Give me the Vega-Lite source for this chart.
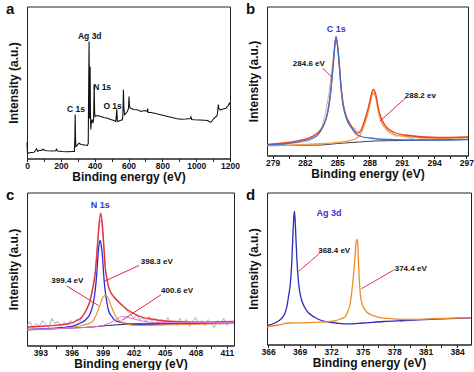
{
  "$schema": "https://vega.github.io/schema/vega-lite/v6.json",
  "background": "white",
  "padding": {"left": 5, "top": 0.5, "right": 0, "bottom": 0},
  "config": {
    "font": "Liberation Sans",
    "view": {"stroke": "#222", "strokeWidth": 1},
    "axis": {"grid": false, "tickSize": 3, "labelFont": "Liberation Sans", "labelFontSize": 8.5, "labelFontWeight": "bold", "labelColor": "#111", "tickColor": "#222", "domainColor": "#222", "titleFont": "Liberation Sans", "titleFontSize": 12, "titleFontWeight": "bold", "titleColor": "#111"},
    "axisX": {"labelFlush": false, "labelOverlap": false, "labelPadding": 0, "titlePadding": 1, "format": "d"},
    "axisY": {"labels": false, "ticks": false, "domain": false, "titlePadding": 7},
    "title": {"font": "Liberation Sans", "fontSize": 15, "fontWeight": "bold", "color": "#111", "anchor": "start", "frame": "bounds", "offset": -10, "dy": 0, "dx": -1, "baseline": "alphabetic"},
    "text": {"font": "Liberation Sans", "fontWeight": "bold", "fontSize": 8.5}
  },
  "datasets": {
    "a": [
      {"x":0,"I":16},{"x":3,"I":5},{"x":20,"I":6},{"x":41,"I":6.3},{"x":50,"I":8},{"x":56,"I":9.7},{"x":63,"I":7},{"x":71,"I":8},{"x":85,"I":8},{"x":95,"I":9.3},{"x":105,"I":8},{"x":120,"I":7.7},{"x":150,"I":7.5},{"x":170,"I":7.7},{"x":174,"I":9.3},{"x":180,"I":7.5},{"x":210,"I":7},{"x":237,"I":6.7},{"x":270,"I":7},{"x":280,"I":7},{"x":283,"I":20},{"x":285,"I":44},{"x":287,"I":20},{"x":289,"I":12},{"x":295,"I":13},{"x":307,"I":15.3},{"x":320,"I":14},{"x":340,"I":13.5},{"x":357,"I":13},{"x":362,"I":15},{"x":364,"I":60},{"x":367,"I":117},{"x":369,"I":40},{"x":371,"I":60},{"x":373,"I":92},{"x":375,"I":45},{"x":377,"I":29},{"x":380,"I":36},{"x":385,"I":39},{"x":390,"I":35.3},{"x":394,"I":40},{"x":397,"I":72.7},{"x":400,"I":45},{"x":403,"I":42},{"x":415,"I":43},{"x":436,"I":42},{"x":455,"I":41},{"x":475,"I":40.3},{"x":495,"I":39},{"x":514,"I":38},{"x":525,"I":37},{"x":529,"I":45},{"x":531,"I":49.3},{"x":534,"I":38},{"x":538,"I":37},{"x":550,"I":38},{"x":564,"I":38.7},{"x":567,"I":45},{"x":570,"I":68.7},{"x":573,"I":50},{"x":577,"I":43.7},{"x":585,"I":45},{"x":593,"I":47},{"x":600,"I":50},{"x":603,"I":62},{"x":606,"I":52},{"x":613,"I":50.3},{"x":630,"I":49},{"x":652,"I":48.7},{"x":674,"I":47},{"x":695,"I":48},{"x":711,"I":47},{"x":713,"I":50},{"x":716,"I":46},{"x":733,"I":46},{"x":760,"I":45},{"x":790,"I":43.7},{"x":820,"I":42.5},{"x":851,"I":41.3},{"x":880,"I":40},{"x":910,"I":39.3},{"x":940,"I":39.5},{"x":965,"I":40},{"x":969,"I":41.5},{"x":973,"I":39},{"x":989,"I":38.7},{"x":1020,"I":38.5},{"x":1050,"I":38.3},{"x":1068,"I":38},{"x":1080,"I":36.5},{"x":1087,"I":36.3},{"x":1095,"I":38},{"x":1107,"I":40.3},{"x":1118,"I":42},{"x":1123,"I":42.5},{"x":1128,"I":48},{"x":1131,"I":54},{"x":1134,"I":50},{"x":1143,"I":48.7},{"x":1160,"I":49.5},{"x":1176,"I":50.3},{"x":1190,"I":53},{"x":1196,"I":55.3},{"x":1200,"I":54}
    ],
    "a_lab": [
      {"x":371,"I":122.5,"t":"Ag 3d"},{"x":444,"I":72,"t":"N 1s"},{"x":290,"I":50,"t":"C 1s"},{"x":506,"I":53,"t":"O 1s"}
    ],
    "b": [
      {"s":"raw","x":278.5,"I":11},{"s":"raw","x":279.5,"I":10},{"s":"raw","x":280.5,"I":12},{"s":"raw","x":281.5,"I":13},{"s":"raw","x":282.5,"I":15},{"s":"raw","x":283.2,"I":20},{"s":"raw","x":283.6,"I":30},{"s":"raw","x":283.9,"I":42},{"s":"raw","x":284.2,"I":60},{"s":"raw","x":284.5,"I":85},{"s":"raw","x":284.8,"I":115},{"s":"raw","x":285.0,"I":112},{"s":"raw","x":285.3,"I":75},{"s":"raw","x":285.6,"I":47},{"s":"raw","x":286.0,"I":34},{"s":"raw","x":286.4,"I":28},{"s":"raw","x":286.7,"I":27},{"s":"raw","x":287.0,"I":23},{"s":"raw","x":287.3,"I":27},{"s":"raw","x":287.6,"I":36},{"s":"raw","x":288.0,"I":52},{"s":"raw","x":288.3,"I":64},{"s":"raw","x":288.6,"I":58},{"s":"raw","x":289.0,"I":39},{"s":"raw","x":289.5,"I":28},{"s":"raw","x":290.0,"I":22},{"s":"raw","x":290.5,"I":19},{"s":"raw","x":291.0,"I":21},{"s":"raw","x":291.5,"I":18},{"s":"raw","x":292.0,"I":17},{"s":"raw","x":292.5,"I":19},{"s":"raw","x":293.0,"I":16},{"s":"raw","x":293.5,"I":18},{"s":"raw","x":294.0,"I":17},{"s":"raw","x":294.5,"I":15},{"s":"raw","x":295.0,"I":18},{"s":"raw","x":295.5,"I":16},{"s":"raw","x":296.0,"I":18},{"s":"raw","x":296.5,"I":17},{"s":"raw","x":297.1,"I":19},
      {"s":"base","x":278.47,"I":10},{"s":"base","x":283.5,"I":10.5},{"s":"base","x":285,"I":12},{"s":"base","x":287,"I":13.5},{"s":"base","x":288.5,"I":14.5},{"s":"base","x":291,"I":15},{"s":"base","x":297.16,"I":16},
      {"s":"c1","x":278.47,"I":10.7},{"s":"c1","x":280,"I":11.5},{"s":"c1","x":281.95,"I":15},{"s":"c1","x":283,"I":19},{"s":"c1","x":283.5,"I":25},{"s":"c1","x":283.9,"I":35},{"s":"c1","x":284.12,"I":43.3},{"s":"c1","x":284.3,"I":55},{"s":"c1","x":284.43,"I":67},{"s":"c1","x":284.55,"I":82},{"s":"c1","x":284.68,"I":97},{"s":"c1","x":284.78,"I":110},{"s":"c1","x":284.89,"I":118.3},{"s":"c1","x":285.0,"I":112},{"s":"c1","x":285.12,"I":100},{"s":"c1","x":285.25,"I":83},{"s":"c1","x":285.36,"I":67},{"s":"c1","x":285.5,"I":53},{"s":"c1","x":285.68,"I":43.3},{"s":"c1","x":286.0,"I":33},{"s":"c1","x":286.29,"I":28.3},{"s":"c1","x":286.7,"I":22},{"s":"c1","x":287.22,"I":19},{"s":"c1","x":288,"I":17.5},{"s":"c1","x":288.78,"I":16.5},{"s":"c1","x":290,"I":16},{"s":"c1","x":291.26,"I":15.5},{"s":"c1","x":294,"I":15.5},{"s":"c1","x":297.16,"I":16},
      {"s":"c2","x":278.47,"I":10},{"s":"c2","x":281,"I":10.5},{"s":"c2","x":283,"I":11.5},{"s":"c2","x":285,"I":13},{"s":"c2","x":286,"I":14.5},{"s":"c2","x":286.61,"I":16.5},{"s":"c2","x":287.0,"I":19},{"s":"c2","x":287.3,"I":24},{"s":"c2","x":287.54,"I":31},{"s":"c2","x":287.8,"I":40},{"s":"c2","x":288.0,"I":49},{"s":"c2","x":288.15,"I":56},{"s":"c2","x":288.28,"I":61},{"s":"c2","x":288.38,"I":62.5},{"s":"c2","x":288.5,"I":60.5},{"s":"c2","x":288.65,"I":54},{"s":"c2","x":288.78,"I":46},{"s":"c2","x":289.0,"I":36.5},{"s":"c2","x":289.4,"I":28},{"s":"c2","x":289.71,"I":24.5},{"s":"c2","x":290.3,"I":21},{"s":"c2","x":291.26,"I":19},{"s":"c2","x":294.36,"I":17.2},{"s":"c2","x":297.16,"I":18},
      {"s":"fit","x":278.47,"I":11},{"s":"fit","x":281.95,"I":16},{"s":"fit","x":283.5,"I":26},{"s":"fit","x":284.12,"I":44},{"s":"fit","x":284.43,"I":68},{"s":"fit","x":284.68,"I":98},{"s":"fit","x":284.89,"I":119},{"s":"fit","x":285.12,"I":101},{"s":"fit","x":285.36,"I":68},{"s":"fit","x":285.68,"I":45},{"s":"fit","x":286.29,"I":30},{"s":"fit","x":286.6,"I":25},{"s":"fit","x":286.92,"I":22.3},{"s":"fit","x":287.2,"I":25},{"s":"fit","x":287.54,"I":35},{"s":"fit","x":287.8,"I":44},{"s":"fit","x":288.0,"I":53},{"s":"fit","x":288.15,"I":60},{"s":"fit","x":288.28,"I":65},{"s":"fit","x":288.38,"I":66},{"s":"fit","x":288.5,"I":64},{"s":"fit","x":288.65,"I":58},{"s":"fit","x":288.78,"I":50},{"s":"fit","x":289.0,"I":40},{"s":"fit","x":289.4,"I":31},{"s":"fit","x":289.71,"I":27},{"s":"fit","x":290.3,"I":23},{"s":"fit","x":291.26,"I":20.5},{"s":"fit","x":294.36,"I":18},{"s":"fit","x":297.16,"I":18.5}
    ],
    "b_lab": [{"x":282.36,"I":91.7,"t":"284.6 eV"},{"x":292.73,"I":59.7,"t":"288.2 ev"}],
    "b_el": [{"x":284.9,"I":127,"t":"C 1s"}],
    "b_ptr": [{"x":283.66,"I":87.3,"x2":284.59,"I2":77.3},{"x":291.41,"I":58,"x2":288.94,"I2":34}],
    "c": [
      {"s":"raw","x":391.7,"I":20},{"s":"raw","x":392.0,"I":24},{"s":"raw","x":392.3,"I":17},{"s":"raw","x":392.6,"I":22},{"s":"raw","x":392.9,"I":19},{"s":"raw","x":393.2,"I":25},{"s":"raw","x":393.5,"I":21},{"s":"raw","x":393.8,"I":18},{"s":"raw","x":394.1,"I":27},{"s":"raw","x":394.4,"I":22},{"s":"raw","x":394.7,"I":24},{"s":"raw","x":395.0,"I":19},{"s":"raw","x":395.3,"I":23},{"s":"raw","x":395.6,"I":21},{"s":"raw","x":395.9,"I":25},{"s":"raw","x":396.2,"I":22},{"s":"raw","x":396.5,"I":26},{"s":"raw","x":396.8,"I":24},{"s":"raw","x":397.1,"I":30},{"s":"raw","x":397.4,"I":34},{"s":"raw","x":397.7,"I":42},{"s":"raw","x":398.0,"I":55},{"s":"raw","x":398.3,"I":75},{"s":"raw","x":398.5,"I":100},{"s":"raw","x":398.7,"I":122},{"s":"raw","x":398.9,"I":126},{"s":"raw","x":399.1,"I":100},{"s":"raw","x":399.3,"I":75},{"s":"raw","x":399.5,"I":62},{"s":"raw","x":399.7,"I":55},{"s":"raw","x":399.9,"I":52},{"s":"raw","x":400.1,"I":50},{"s":"raw","x":400.3,"I":47},{"s":"raw","x":400.5,"I":45},{"s":"raw","x":400.8,"I":42},{"s":"raw","x":401.1,"I":38},{"s":"raw","x":401.4,"I":34},{"s":"raw","x":401.7,"I":32},{"s":"raw","x":402.0,"I":27},{"s":"raw","x":402.3,"I":31},{"s":"raw","x":402.6,"I":25},{"s":"raw","x":402.9,"I":28},{"s":"raw","x":403.2,"I":23},{"s":"raw","x":403.5,"I":29},{"s":"raw","x":403.8,"I":24},{"s":"raw","x":404.1,"I":27},{"s":"raw","x":404.4,"I":22},{"s":"raw","x":404.7,"I":26},{"s":"raw","x":405.0,"I":21},{"s":"raw","x":405.3,"I":28},{"s":"raw","x":405.6,"I":22},{"s":"raw","x":405.9,"I":25},{"s":"raw","x":406.2,"I":20},{"s":"raw","x":406.5,"I":27},{"s":"raw","x":406.8,"I":23},{"s":"raw","x":407.1,"I":26},{"s":"raw","x":407.4,"I":19},{"s":"raw","x":407.7,"I":24},{"s":"raw","x":408.0,"I":28},{"s":"raw","x":408.3,"I":21},{"s":"raw","x":408.6,"I":25},{"s":"raw","x":408.9,"I":20},{"s":"raw","x":409.2,"I":26},{"s":"raw","x":409.5,"I":22},{"s":"raw","x":409.8,"I":18},{"s":"raw","x":410.1,"I":25},{"s":"raw","x":410.4,"I":21},{"s":"raw","x":410.7,"I":27},{"s":"raw","x":411.0,"I":20},{"s":"raw","x":411.3,"I":23},{"s":"raw","x":411.6,"I":24},
      {"s":"base","x":391.7,"I":15.7},{"s":"base","x":396,"I":17.5},{"s":"base","x":398,"I":18.5},{"s":"base","x":399.5,"I":20},{"s":"base","x":401,"I":21},{"s":"base","x":404,"I":21.5},{"s":"base","x":411.7,"I":22.3},
      {"s":"c1","x":391.7,"I":16},{"s":"c1","x":394,"I":17},{"s":"c1","x":396,"I":19},{"s":"c1","x":396.69,"I":21.7},{"s":"c1","x":397.4,"I":26},{"s":"c1","x":397.8,"I":31.7},{"s":"c1","x":398.1,"I":42},{"s":"c1","x":398.29,"I":55},{"s":"c1","x":398.45,"I":73},{"s":"c1","x":398.55,"I":88.3},{"s":"c1","x":398.65,"I":100},{"s":"c1","x":398.77,"I":105},{"s":"c1","x":398.9,"I":98},{"s":"c1","x":399.0,"I":88.3},{"s":"c1","x":399.1,"I":72},{"s":"c1","x":399.25,"I":55},{"s":"c1","x":399.4,"I":44},{"s":"c1","x":399.58,"I":35},{"s":"c1","x":399.9,"I":29},{"s":"c1","x":400.21,"I":25},{"s":"c1","x":400.86,"I":23},{"s":"c1","x":401.51,"I":21.7},{"s":"c1","x":403,"I":21.5},{"s":"c1","x":406,"I":21.8},{"s":"c1","x":411.7,"I":22.5},
      {"s":"c2","x":391.7,"I":15.5},{"s":"c2","x":395,"I":17},{"s":"c2","x":397,"I":20},{"s":"c2","x":397.97,"I":23.5},{"s":"c2","x":398.45,"I":32},{"s":"c2","x":398.8,"I":42},{"s":"c2","x":399.05,"I":48.5},{"s":"c2","x":399.3,"I":50.3},{"s":"c2","x":399.55,"I":47},{"s":"c2","x":399.85,"I":39},{"s":"c2","x":400.2,"I":30.5},{"s":"c2","x":400.6,"I":25},{"s":"c2","x":401.2,"I":21.5},{"s":"c2","x":402.5,"I":20},{"s":"c2","x":405,"I":20.5},{"s":"c2","x":411.7,"I":22},
      {"s":"c3","x":391.7,"I":16},{"s":"c3","x":396,"I":17.5},{"s":"c3","x":398,"I":18.5},{"s":"c3","x":399,"I":20},{"s":"c3","x":399.7,"I":22.5},{"s":"c3","x":400.3,"I":26},{"s":"c3","x":400.9,"I":29},{"s":"c3","x":401.5,"I":28},{"s":"c3","x":402.2,"I":26},{"s":"c3","x":402.8,"I":24.5},{"s":"c3","x":404,"I":23},{"s":"c3","x":406.6,"I":22.7},{"s":"c3","x":411.7,"I":23},
      {"s":"fit","x":391.7,"I":18.3},{"s":"fit","x":393.5,"I":19.5},{"s":"fit","x":395.72,"I":21.7},{"s":"fit","x":396.69,"I":26},{"s":"fit","x":397.0,"I":28.3},{"s":"fit","x":397.4,"I":35},{"s":"fit","x":397.8,"I":45},{"s":"fit","x":398.05,"I":57},{"s":"fit","x":398.29,"I":71.7},{"s":"fit","x":398.45,"I":92},{"s":"fit","x":398.61,"I":115},{"s":"fit","x":398.81,"I":132.3},{"s":"fit","x":398.95,"I":124},{"s":"fit","x":399.03,"I":115},{"s":"fit","x":399.15,"I":95},{"s":"fit","x":399.25,"I":78.3},{"s":"fit","x":399.4,"I":68},{"s":"fit","x":399.58,"I":58.3},{"s":"fit","x":399.9,"I":51},{"s":"fit","x":400.21,"I":47},{"s":"fit","x":400.5,"I":44},{"s":"fit","x":400.86,"I":40.5},{"s":"fit","x":401.51,"I":35},{"s":"fit","x":402.1,"I":31.5},{"s":"fit","x":402.79,"I":28.3},{"s":"fit","x":404,"I":26},{"s":"fit","x":405.36,"I":24.3},{"s":"fit","x":408.58,"I":23.3},{"s":"fit","x":411.69,"I":24}
    ],
    "c_lab": [{"x":404.24,"I":83.3,"t":"398.3 eV"},{"x":395.6,"I":65,"t":"399.4 eV"},{"x":406.2,"I":55,"t":"400.6 eV"}],
    "c_el": [{"x":398.77,"I":141,"t":"N 1s"}],
    "c_ptr": [{"x":402.53,"I":80,"x2":399.19,"I2":64.3},{"x":395.56,"I":59.3,"x2":398.61,"I2":40},{"x":404.65,"I":50.7,"x2":400.86,"I2":25}],
    "d": [
      {"s":"c1","x":365.9,"I":19},{"s":"c1","x":366.7,"I":21.7},{"s":"c1","x":367.33,"I":26.7},{"s":"c1","x":367.6,"I":31},{"s":"c1","x":367.8,"I":38.3},{"s":"c1","x":367.95,"I":48},{"s":"c1","x":368.13,"I":61.7},{"s":"c1","x":368.25,"I":80},{"s":"c1","x":368.35,"I":105},{"s":"c1","x":368.44,"I":125},{"s":"c1","x":368.51,"I":133.3},{"s":"c1","x":368.58,"I":124},{"s":"c1","x":368.66,"I":105},{"s":"c1","x":368.75,"I":85},{"s":"c1","x":368.85,"I":68.3},{"s":"c1","x":369.0,"I":54},{"s":"c1","x":369.18,"I":45},{"s":"c1","x":369.45,"I":38},{"s":"c1","x":369.71,"I":33.3},{"s":"c1","x":370.1,"I":29.5},{"s":"c1","x":370.51,"I":26.7},{"s":"c1","x":371.1,"I":24},{"s":"c1","x":371.78,"I":22.3},{"s":"c1","x":372.7,"I":21.2},{"s":"c1","x":373.68,"I":20.7},{"s":"c1","x":375,"I":21.5},{"s":"c1","x":377,"I":23},{"s":"c1","x":379.08,"I":24},{"s":"c1","x":382,"I":25.5},{"s":"c1","x":385.33,"I":26.7},
      {"s":"c2","x":365.9,"I":17.7},{"s":"c2","x":367,"I":19.5},{"s":"c2","x":367.97,"I":21.5},{"s":"c2","x":369.56,"I":21.7},{"s":"c2","x":371,"I":22.3},{"s":"c2","x":372.3,"I":23.5},{"s":"c2","x":372.9,"I":25.5},{"s":"c2","x":373.37,"I":28},{"s":"c2","x":373.6,"I":33},{"s":"c2","x":373.84,"I":41.7},{"s":"c2","x":374.0,"I":55},{"s":"c2","x":374.16,"I":71.7},{"s":"c2","x":374.3,"I":90},{"s":"c2","x":374.38,"I":101.7},{"s":"c2","x":374.47,"I":105},{"s":"c2","x":374.55,"I":100},{"s":"c2","x":374.63,"I":78},{"s":"c2","x":374.72,"I":60},{"s":"c2","x":374.8,"I":49},{"s":"c2","x":374.95,"I":41},{"s":"c2","x":375.11,"I":36.7},{"s":"c2","x":375.4,"I":32.5},{"s":"c2","x":375.75,"I":30},{"s":"c2","x":376.3,"I":28},{"s":"c2","x":376.85,"I":26.7},{"s":"c2","x":378,"I":25.6},{"s":"c2","x":379.08,"I":25},{"s":"c2","x":382,"I":25.8},{"s":"c2","x":385.33,"I":26.7}
    ],
    "d_lab": [{"x":372.3,"I":93.3,"t":"368.4 eV"},{"x":379.59,"I":75.7,"t":"374.4 eV"}],
    "d_el": [{"x":371.8,"I":131.7,"t":"Ag 3d"}],
    "d_ptr": [{"x":370.89,"I":91,"x2":368.92,"I2":73.3},{"x":378.06,"I":75,"x2":374.89,"I2":55.7}]
  },
  "columns": 2,
  "bounds": "flush",
  "align": "all",
  "spacing": {"row": 33, "column": 33},
  "concat": [
    {
      "width": 203, "height": 152,
      "title": {"text": "a"},
      "encoding": {
        "x": {"field": "x", "type": "quantitative", "scale": {"domain": [0, 1200], "nice": false, "zero": false},
              "axis": {"title": "Binding energy (eV)", "values": [0,100,200,300,400,500,600,700,800,900,1000,1100,1200],
                       "labelExpr": "datum.value % 200 == 0 ? datum.label : ''"}},
        "y": {"field": "I", "type": "quantitative", "scale": {"domain": [0, 152], "nice": false, "zero": false}, "axis": {"title": "Intensity (a.u.)"}}
      },
      "layer": [
        {"data": {"name": "a"}, "mark": {"type": "line", "color": "#111", "strokeWidth": 1.1}},
        {"data": {"name": "a_lab"}, "mark": {"type": "text", "color": "#111"}, "encoding": {"text": {"field": "t"}}}
      ]
    },
    {
      "width": 201, "height": 149,
      "title": {"text": "b"},
      "encoding": {
        "x": {"field": "x", "type": "quantitative", "scale": {"domain": [278.47, 297.16], "nice": false, "zero": false},
              "axis": {"title": "Binding energy (eV)", "values": [279,280.5,282,283.5,285,286.5,288,289.5,291,292.5,294,295.5,297],
                       "labelExpr": "(datum.value - 279) % 3 == 0 ? datum.label : ''"}},
        "y": {"field": "I", "type": "quantitative", "scale": {"domain": [0, 149], "nice": false, "zero": false}, "axis": {"title": "Intensity (a.u.)"}}
      },
      "layer": [
        {"data": {"name": "b"}, "transform": [{"filter": "datum.s == 'raw'"}], "mark": {"type": "line", "color": "#b8b8b8", "strokeWidth": 1, "interpolate": "linear"}},
        {"data": {"name": "b"}, "transform": [{"filter": "datum.s == 'base'"}], "mark": {"type": "line", "color": "#3a3a5a", "strokeWidth": 1, "interpolate": "monotone"}},
        {"data": {"name": "b"}, "transform": [{"filter": "datum.s == 'c2'"}], "mark": {"type": "line", "color": "#f5a040", "strokeWidth": 1.3, "interpolate": "monotone"}},
        {"data": {"name": "b"}, "transform": [{"filter": "datum.s == 'fit'"}], "mark": {"type": "line", "color": "#e8461e", "strokeWidth": 1.3, "interpolate": "monotone"}},
        {"data": {"name": "b"}, "transform": [{"filter": "datum.s == 'c1'"}], "mark": {"type": "line", "color": "#3f6fd0", "strokeWidth": 1.3, "interpolate": "monotone"}},
        {"data": {"name": "b_ptr"}, "mark": {"type": "rule", "color": "#e8283c", "strokeWidth": 1}, "encoding": {"x2": {"field": "x2"}, "y2": {"field": "I2"}}},
        {"data": {"name": "b_lab"}, "mark": {"type": "text", "color": "#111", "fontSize": 8}, "encoding": {"text": {"field": "t"}}},
        {"data": {"name": "b_el"}, "mark": {"type": "text", "color": "#3535d0", "fontSize": 9}, "encoding": {"text": {"field": "t"}}}
      ]
    },
    {
      "width": 207, "height": 153,
      "title": {"text": "c"},
      "encoding": {
        "x": {"field": "x", "type": "quantitative", "scale": {"domain": [391.7, 411.7], "nice": false, "zero": false},
              "axis": {"title": "Binding energy (eV)", "values": [393,394.5,396,397.5,399,400.5,402,403.5,405,406.5,408,409.5,411],
                       "labelExpr": "(datum.value - 393) % 3 == 0 ? datum.label : ''"}},
        "y": {"field": "I", "type": "quantitative", "scale": {"domain": [0, 153], "nice": false, "zero": false}, "axis": {"title": "Intensity (a.u.)"}}
      },
      "layer": [
        {"data": {"name": "c"}, "transform": [{"filter": "datum.s == 'raw'"}], "mark": {"type": "line", "color": "#b0b0b0", "strokeWidth": 1, "interpolate": "linear"}},
        {"data": {"name": "c"}, "transform": [{"filter": "datum.s == 'base'"}], "mark": {"type": "line", "color": "#22225e", "strokeWidth": 1, "interpolate": "monotone"}},
        {"data": {"name": "c"}, "transform": [{"filter": "datum.s == 'c1'"}], "mark": {"type": "line", "color": "#2b2bd8", "strokeWidth": 1.3, "interpolate": "monotone"}},
        {"data": {"name": "c"}, "transform": [{"filter": "datum.s == 'c2'"}], "mark": {"type": "line", "color": "#f0922c", "strokeWidth": 1.2, "interpolate": "monotone"}},
        {"data": {"name": "c"}, "transform": [{"filter": "datum.s == 'fit'"}], "mark": {"type": "line", "color": "#e8323c", "strokeWidth": 1.4, "interpolate": "monotone"}},
        {"data": {"name": "c"}, "transform": [{"filter": "datum.s == 'c3'"}], "mark": {"type": "line", "color": "#e070e0", "strokeWidth": 1, "interpolate": "monotone"}},
        {"data": {"name": "c_ptr"}, "mark": {"type": "rule", "color": "#e8283c", "strokeWidth": 1}, "encoding": {"x2": {"field": "x2"}, "y2": {"field": "I2"}}},
        {"data": {"name": "c_lab"}, "mark": {"type": "text", "color": "#111", "fontSize": 8}, "encoding": {"text": {"field": "t"}}},
        {"data": {"name": "c_el"}, "mark": {"type": "text", "color": "#3535d0", "fontSize": 9}, "encoding": {"text": {"field": "t"}}}
      ]
    },
    {
      "width": 204, "height": 152,
      "title": {"text": "d"},
      "encoding": {
        "x": {"field": "x", "type": "quantitative", "scale": {"domain": [365.9, 385.33], "nice": false, "zero": false},
              "axis": {"title": "Binding energy (eV)", "values": [366,367.5,369,370.5,372,373.5,375,376.5,378,379.5,381,382.5,384],
                       "labelExpr": "(datum.value - 366) % 3 == 0 ? datum.label : ''"}},
        "y": {"field": "I", "type": "quantitative", "scale": {"domain": [0, 152], "nice": false, "zero": false}, "axis": {"title": "Intensity (a.u.)"}}
      },
      "layer": [
        {"data": {"name": "d"}, "transform": [{"filter": "datum.s == 'c1'"}], "mark": {"type": "line", "color": "#2c2cb8", "strokeWidth": 1.3, "interpolate": "monotone"}},
        {"data": {"name": "d"}, "transform": [{"filter": "datum.s == 'c2'"}], "mark": {"type": "line", "color": "#f08c28", "strokeWidth": 1.3, "interpolate": "monotone"}},
        {"data": {"name": "d_ptr"}, "mark": {"type": "rule", "color": "#e8305a", "strokeWidth": 1}, "encoding": {"x2": {"field": "x2"}, "y2": {"field": "I2"}}},
        {"data": {"name": "d_lab"}, "mark": {"type": "text", "color": "#111", "fontSize": 8}, "encoding": {"text": {"field": "t"}}},
        {"data": {"name": "d_el"}, "mark": {"type": "text", "color": "#3535d0", "fontSize": 9}, "encoding": {"text": {"field": "t"}}}
      ]
    }
  ]
}
